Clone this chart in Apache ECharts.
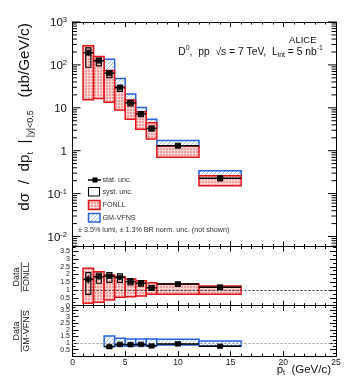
<!DOCTYPE html>
<html>
<head>
<meta charset="utf-8">
<script src="https://cdn.jsdelivr.net/npm/echarts@6/dist/echarts.min.js"></script>
<style>
  html, body { margin: 0; padding: 0; background: #fff; }
  #chart { width: 354px; height: 382px; }
</style>
</head>
<body>
<div id="chart"></div>
<script>
// pt bins (GeV/c)
const binLo = [1, 2, 3, 4, 5, 6, 7, 8, 12];
const binHi = [2, 3, 4, 5, 6, 7, 8, 12, 16];
const ptMid = [1.5, 2.5, 3.5, 4.5, 5.5, 6.5, 7.5, 10, 14];

// measured dsigma/dpt (ub/GeV/c)
const xsec = [193, 125, 64, 29.5, 13.1, 7.2, 3.3, 1.31, 0.227];
const statErr = [28, 12, 5, 2.4, 1.1, 0.6, 0.3, 0.1, 0.025];
const systHi = [250, 145, 72, 33.5, 14.8, 8.1, 3.7, 1.45, 0.255];
const systLo = [88, 95, 50, 24, 11, 6.2, 2.9, 1.17, 0.2];

// FONLL band
const fonllHi = [280, 158, 74, 31, 15.2, 8.1, 4.5, 1.29, 0.262];
const fonllLo = [15.5, 16.5, 13.5, 8.9, 5.4, 3.15, 1.87, 0.70, 0.153];

// GM-VFNS band, starts at the 3-4 GeV/c bin
const gmFirst = 2;
const gmHi = [135, 48, 21, 10.2, 5.4, 1.72, 0.342];
const gmLo = [64, 25.5, 11.6, 6.2, 3.3, 1.2, 0.235];

// Data / FONLL
const rF = [1.69, 1.86, 1.90, 1.82, 1.54, 1.44, 1.15, 1.39, 1.18];
const rFHi = [2.40, 2.18, 1.97, 1.86, 1.71, 1.60, 1.47, 1.39, 1.26];
const rFLo = [0.15, 0.22, 0.37, 0.54, 0.58, 0.62, 0.73, 0.73, 0.73];
const rFSysHi = [2.12, 2.08, 2.12, 2.05, 1.74, 1.62, 1.30, 1.52, 1.32];
const rFSysLo = [0.73, 1.44, 1.50, 1.50, 1.33, 1.25, 1.00, 1.25, 1.05];
const rFStat = [0.25, 0.18, 0.15, 0.15, 0.13, 0.12, 0.1, 0.1, 0.1];

// Data / GM-VFNS
const rG = [0.73, 0.90, 0.88, 0.90, 0.78, 0.93, 0.75];
const rGHi = [1.54, 1.36, 1.31, 1.31, 1.31, 1.28, 1.16];
const rGLo = [0.73, 0.78, 0.78, 0.79, 0.79, 0.85, 0.78];
const rGSysHi = [0.82, 0.99, 1.0, 1.0, 0.88, 1.07, 0.85];
const rGSysLo = [0.58, 0.75, 0.78, 0.80, 0.69, 0.84, 0.66];

// axes
const xMin = 0, xMax = 25;
const logMin = -2.233, logMax = 3;
const decades = [-2, -1, 0, 1, 2, 3];
const decadeLabels = ['10{s|-2}', '10{s|-1}', '1', '10', '10{s|2}', '10{s|3}'];
const minorMult = [2, 3, 4, 5, 6, 7, 8, 9];
const ratioMaxMid = 3.8, ratioMaxLow = 3.84;

const FONT = '"Liberation Sans", Arial, Helvetica, sans-serif';
const SYST_HW = 0.24;

function makePattern(w, h, draw) {
  const c = document.createElement('canvas');
  c.width = w; c.height = h;
  draw(c.getContext('2d'));
  return { image: c, repeat: 'repeat' };
}
const redFill = makePattern(3, 3, (ctx) => {
  ctx.fillStyle = '#f29c9c'; ctx.fillRect(0, 0, 3, 3);
  ctx.fillStyle = '#fbd6d6'; ctx.fillRect(0, 0, 3, 1); ctx.fillRect(0, 0, 1, 3);
});
const blueFill = makePattern(4, 4, (ctx) => {
  ctx.fillStyle = '#ffffff'; ctx.fillRect(0, 0, 4, 4);
  ctx.fillStyle = '#a4c6f4';
  for (let i = 0; i < 4; i++) ctx.fillRect(i, 3 - i, 1, 1);
});

const redStyle = { fill: redFill, stroke: '#e3161e', lineWidth: 1.5 };
const blueStyle = { fill: blueFill, stroke: '#2a62e0', lineWidth: 1.5 };
const systStyle = { fill: 'none', stroke: '#000', lineWidth: 1.1 };

const L = Math.log10;

// [xLo, xHi, yLo, yHi]
function rectSeries(xi, yi, data, style, z, extra) {
  return Object.assign({
    type: 'custom', xAxisIndex: xi, yAxisIndex: yi, z, silent: true, animation: false,
    data,
    renderItem(params, api) {
      const a = api.coord([api.value(0), api.value(3)]);
      const b = api.coord([api.value(1), api.value(2)]);
      return {
        type: 'rect',
        shape: { x: a[0], y: a[1], width: b[0] - a[0], height: b[1] - a[1] },
        style: Object.assign({}, style),
      };
    },
  }, extra || {});
}

// [xLo, xHi, xMid, y, yLo, yHi]
function errSeries(xi, yi, data, z) {
  return {
    type: 'custom', xAxisIndex: xi, yAxisIndex: yi, z, silent: true, animation: false,
    data,
    renderItem(params, api) {
      const l = api.coord([api.value(0), api.value(3)]);
      const r = api.coord([api.value(1), api.value(3)]);
      const lo = api.coord([api.value(2), api.value(4)]);
      const hi = api.coord([api.value(2), api.value(5)]);
      const st = { stroke: '#000', lineWidth: 1.5 };
      return {
        type: 'group',
        children: [
          { type: 'line', shape: { x1: l[0], y1: l[1], x2: r[0], y2: r[1] }, style: Object.assign({}, st) },
          { type: 'line', shape: { x1: lo[0], y1: lo[1], x2: hi[0], y2: hi[1] }, style: Object.assign({}, st) },
        ],
      };
    },
  };
}

function pointSeries(xi, yi, data, size) {
  return {
    type: 'scatter', xAxisIndex: xi, yAxisIndex: yi, z: 12, silent: true, animation: false,
    symbol: 'rect', symbolSize: size, itemStyle: { color: '#000' }, data,
  };
}

// ---- top panel (log10 space)
const topGm = gmHi.map((h, i) => [binLo[i + gmFirst], binHi[i + gmFirst], L(gmLo[i]), L(h)]);
const topFonll = fonllHi.map((h, i) => [binLo[i], binHi[i], L(fonllLo[i]), L(h)]);
const topSyst = xsec.map((v, i) => [ptMid[i] - SYST_HW, ptMid[i] + SYST_HW, L(systLo[i]), L(systHi[i])]);
const topErr = xsec.map((v, i) => [binLo[i], binHi[i], ptMid[i], L(v), L(v - statErr[i]), L(v + statErr[i])]);
const topPts = xsec.map((v, i) => [ptMid[i], L(v)]);

const logTicks = [];
decades.forEach((d, i) => logTicks.push([d, 1, i]));
for (let d = -3; d < 3; d++) {
  minorMult.forEach((m) => {
    const v = d + L(m);
    if (v > logMin && v < logMax) logTicks.push([v, 0, -1]);
  });
}

const logTickSeries = {
  type: 'custom', xAxisIndex: 0, yAxisIndex: 0, z: 15, silent: true, animation: false,
  data: logTicks,
  renderItem(params, api) {
    const v = api.value(0);
    const major = api.value(1) === 1;
    const pl = api.coord([xMin, v]);
    const pr = api.coord([xMax, v]);
    const len = major ? 8 : 4.5;
    const st = { stroke: '#000', lineWidth: 1 };
    const children = [
      { type: 'line', shape: { x1: pl[0], y1: pl[1], x2: pl[0] + len, y2: pl[1] }, style: Object.assign({}, st) },
      { type: 'line', shape: { x1: pr[0], y1: pr[1], x2: pr[0] - len, y2: pr[1] }, style: Object.assign({}, st) },
    ];
    if (major) {
      children.push({
        type: 'text', x: pl[0] - 5.5, y: pl[1] + 1,
        style: {
          text: decadeLabels[api.value(2)],
          fontSize: 11.5, fontFamily: FONT, fill: '#111',
          lineHeight: 14,
          align: 'right', verticalAlign: 'middle',
          rich: { s: { fontSize: 7.5, fontFamily: FONT, fill: '#111', lineHeight: 7, verticalAlign: 'top' } },
        },
      });
    }
    return { type: 'group', children };
  },
};

// ---- ratio panels
const midFonll = rFHi.map((h, i) => [binLo[i], binHi[i], rFLo[i], h]);
const midSyst = rF.map((v, i) => [ptMid[i] - SYST_HW, ptMid[i] + SYST_HW, rFSysLo[i], rFSysHi[i]]);
const midErr = rF.map((v, i) => [binLo[i], binHi[i], ptMid[i], v, v - rFStat[i], v + rFStat[i]]);
const midPts = rF.map((v, i) => [ptMid[i], v]);

const lowGm = rGHi.map((h, i) => [binLo[i + gmFirst], binHi[i + gmFirst], rGLo[i], h]);
const lowSyst = rG.map((v, i) => [ptMid[i + gmFirst] - SYST_HW, ptMid[i + gmFirst] + SYST_HW, rGSysLo[i], rGSysHi[i]]);
const lowErr = rG.map((v, i) => [binLo[i + gmFirst], binHi[i + gmFirst], ptMid[i + gmFirst], v, v - 0.04, v + 0.04]);
const lowPts = rG.map((v, i) => [ptMid[i + gmFirst], v]);

function unitLine(color) {
  return {
    silent: true, symbol: 'none', animation: false, z: 5,
    label: { show: false },
    lineStyle: { color, type: [2, 2], width: 1 },
    data: [{ yAxis: 1 }],
  };
}

// ---- axes
const axLine = { show: true, onZero: false, lineStyle: { color: '#000', width: 1 } };
function xAx(gi, pos, labels) {
  return {
    type: 'value', gridIndex: gi, position: pos, min: xMin, max: xMax, interval: 5,
    axisLine: axLine,
    axisTick: { show: true, inside: true, length: 5, lineStyle: { color: '#000' } },
    minorTick: { show: true, splitNumber: 5, length: 2.5, lineStyle: { color: '#000' } },
    axisLabel: { show: labels, fontSize: 8.5, fontFamily: FONT, color: '#111', margin: 2 },
    splitLine: { show: false },
  };
}
function yRatio(gi, pos, max, labels) {
  return {
    type: 'value', gridIndex: gi, position: pos, min: 0, max, interval: 0.5,
    axisLine: axLine,
    axisTick: { show: true, inside: true, length: 6, lineStyle: { color: '#000' } },
    minorTick: { show: true, splitNumber: 2, length: 3, lineStyle: { color: '#000' } },
    axisLabel: {
      show: labels, fontSize: 7, fontFamily: FONT, color: '#222', margin: 2.5,
      formatter: (v) => (v <= 3.5 ? String(v) : ''),
    },
    splitLine: { show: false },
  };
}
function yLog(gi, pos) {
  return {
    type: 'value', gridIndex: gi, position: pos, min: logMin, max: logMax,
    axisLine: axLine, axisTick: { show: false }, axisLabel: { show: false }, splitLine: { show: false },
  };
}

const gridL = 72.5, gridW = 263.5;

// ---- texts and legend
const T = (x, y, text, size, extra) => ({
  type: 'text', x, y, silent: true,
  style: Object.assign({ text, fontSize: size, fontFamily: FONT, fill: '#111', align: 'left', verticalAlign: 'middle' }, extra || {}),
});

const subRich = (size) => ({ fontSize: size, fontFamily: FONT, fill: '#111', lineHeight: size, verticalAlign: 'bottom' });
const supRich = (size) => ({ fontSize: size, fontFamily: FONT, fill: '#111', lineHeight: size, verticalAlign: 'top' });

const yTitle = T(25, 117, 'dσ  /  dp{sb|t}  |{sb| |y|<0.5}   (µb/GeV/c)', 15.3, {
  align: 'center', lineHeight: 21,
  rich: { sb: subRich(9) },
});
yTitle.rotation = Math.PI / 2;

const ratioTitles = [
  T(16.5, 277, 'Data', 9, { align: 'center', fill: '#222' }),
  T(26.5, 277, 'FONLL', 9, { align: 'center', fill: '#222' }),
  T(16.5, 331, 'Data', 9, { align: 'center', fill: '#222' }),
  T(26.5, 331, 'GM-VFNS', 9, { align: 'center', fill: '#222' }),
];
ratioTitles.forEach((g) => { g.rotation = Math.PI / 2; });

const graphics = [
  T(316.5, 40, 'ALICE', 9.5, { align: 'right' }),
  T(323, 52, 'D{sp|0},  pp  √s = 7 TeV,  L{sb|int} = 5 nb{sp|-1}', 10.3, {
    align: 'right', lineHeight: 14,
    rich: { sp: supRich(7), sb: subRich(7) },
  }),
  yTitle,
  // legend
  { type: 'line', silent: true, shape: { x1: 88, y1: 180, x2: 101, y2: 180 }, style: { stroke: '#000', lineWidth: 1.5 } },
  { type: 'rect', silent: true, shape: { x: 92.5, y: 177.5, width: 5, height: 5 }, style: { fill: '#000' } },
  { type: 'rect', silent: true, shape: { x: 88.5, y: 187.5, width: 11, height: 8.5 }, style: { fill: 'none', stroke: '#000', lineWidth: 1.1 } },
  { type: 'rect', silent: true, shape: { x: 88.5, y: 200.5, width: 11.5, height: 9 }, style: Object.assign({}, redStyle) },
  { type: 'rect', silent: true, shape: { x: 88.5, y: 213.5, width: 11.5, height: 8.5 }, style: Object.assign({}, blueStyle) },
  T(102.5, 180, 'stat. unc.', 7.2, { fill: '#333' }),
  T(102.5, 192, 'syst. unc.', 7.2, { fill: '#333' }),
  T(102.5, 205, 'FONLL', 7.2, { fill: '#333' }),
  T(102.5, 218, 'GM-VFNS', 7.2, { fill: '#333' }),
  T(78, 230.5, '± 3.5% lumi, ± 1.3% BR norm. unc. (not shown)', 7.2, { fill: '#333' }),
  // ratio titles
  ...ratioTitles,
  { type: 'line', silent: true, shape: { x1: 21.3, y1: 262, x2: 21.3, y2: 292 }, style: { stroke: '#222', lineWidth: 0.8 } },
  { type: 'line', silent: true, shape: { x1: 21.3, y1: 310, x2: 21.3, y2: 352 }, style: { stroke: '#222', lineWidth: 0.8 } },
  // x title
  T(331, 370, 'p{sb|t}  (GeV/c)', 11.5, { align: 'right', lineHeight: 14, rich: { sb: subRich(7) } }),
];

const option = {
  animation: false,
  backgroundColor: '#fff',
  textStyle: { fontFamily: FONT },
  grid: [
    { left: gridL, top: 22, width: gridW, height: 224.5, outerBoundsMode: 'none' },
    { left: gridL, top: 246.5, width: gridW, height: 59.2, outerBoundsMode: 'none' },
    { left: gridL, top: 305.7, width: gridW, height: 50.5, outerBoundsMode: 'none' },
  ],
  xAxis: [
    xAx(0, 'bottom', false), xAx(0, 'top', false),
    xAx(1, 'bottom', false), xAx(1, 'top', false),
    xAx(2, 'bottom', true), xAx(2, 'top', false),
  ],
  yAxis: [
    yLog(0, 'left'), yLog(0, 'right'),
    yRatio(1, 'left', ratioMaxMid, true), yRatio(1, 'right', ratioMaxMid, false),
    yRatio(2, 'left', ratioMaxLow, true), yRatio(2, 'right', ratioMaxLow, false),
  ],
  series: [
    rectSeries(0, 0, topGm, blueStyle, 2),
    rectSeries(0, 0, topFonll, redStyle, 3),
    rectSeries(0, 0, topSyst, systStyle, 10),
    errSeries(0, 0, topErr, 11),
    pointSeries(0, 0, topPts, 6),
    logTickSeries,

    rectSeries(2, 2, midFonll, redStyle, 3, { markLine: unitLine('#333') }),
    rectSeries(2, 2, midSyst, systStyle, 10),
    errSeries(2, 2, midErr, 11),
    pointSeries(2, 2, midPts, 5.5),

    rectSeries(4, 4, lowGm, blueStyle, 3, { markLine: unitLine('#999') }),
    rectSeries(4, 4, lowSyst, systStyle, 10),
    errSeries(4, 4, lowErr, 11),
    pointSeries(4, 4, lowPts, 5.5),
  ],
  graphic: graphics,
};

const chart = echarts.init(document.getElementById('chart'));
chart.setOption(option);
</script>
</body>
</html>
